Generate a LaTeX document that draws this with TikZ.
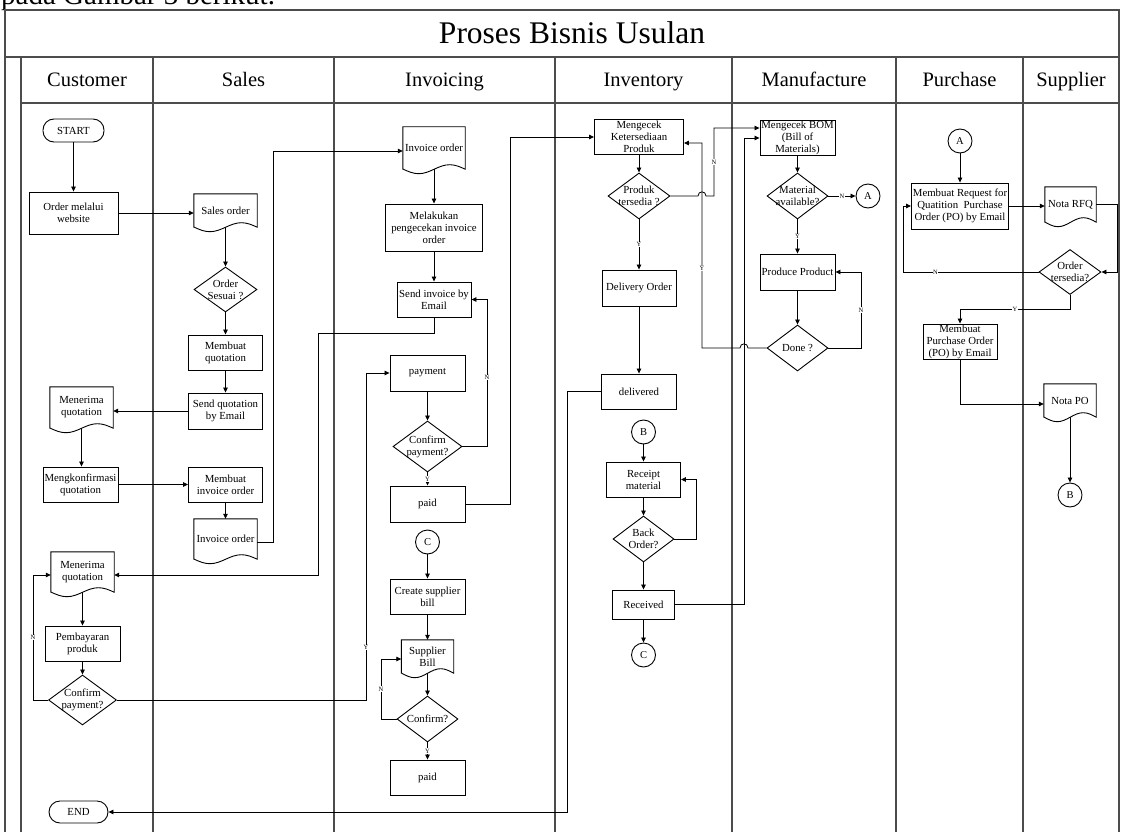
\documentclass[tikz,border=0pt]{standalone}
\usepackage{fontspec}
\setmainfont{Liberation Serif}
\usetikzlibrary{shapes.geometric, arrows.meta}

\tikzset{
  base/.style={font=\fontsize{10.8}{12}\selectfont, align=center, inner xsep=1pt, inner ysep=0pt},
  proc/.style={base, draw, rectangle, line width=0.9pt},
  term/.style={base, draw, rectangle, rounded corners=11pt, line width=0.9pt},
  decision/.style={diamond, draw, inner sep=0pt, line width=0.9pt},
  dtext/.style={base},
  docbody/.style={base, rectangle, inner sep=0pt},
  docline/.style={draw, line width=0.9pt},
  conn/.style={circle, draw, minimum size=24pt, inner sep=0pt, line width=0.9pt, font=\fontsize{10.5}{12}\selectfont},
  flow/.style={draw, line width=0.8pt, -{Triangle[length=5pt,width=4.5pt]}},
  yn/.style={fill=white, inner sep=0.4pt, font=\fontsize{6.5}{7}\selectfont},
  lane/.style={draw=black!70, line width=1.3pt},
  header/.style={anchor=base, inner sep=0pt, font=\fontsize{20.5}{24}\selectfont},
}

% document symbol: a box whose lower edge is a wave
\newcommand\docshape[6]{%
  \node[docbody, minimum width=#4pt, minimum height=#5pt] (#1) at (#2,#3) {#6};
  \draw[docline] (#1.south west) -- (#1.north west) -- (#1.north east) -- (#1.south east)
     sin ++({-#4/4},-4.5) cos ++({-#4/4},4.5) sin ++({-#4/4},4.5) cos ++({-#4/4},-4.5) -- cycle;
}

\begin{document}
\begin{tikzpicture}[x=1pt,y=-1pt]
\useasboundingbox (0,0) rectangle (1121,832);

% running text of the page above the figure
\node[anchor=base west, inner sep=0pt, font=\fontsize{29}{32}\selectfont] (para) at (1,5) {pada Gambar 3 berikut.};

% ---------- pool and lanes ----------
\draw[lane] (5,832) -- (5,10) -- (1119,10) -- (1119,832);
\draw[lane] (5,57) -- (1119,57);
\draw[lane] (21,103) -- (1119,103);
\foreach \x in {21,153,334,555,732,896,1023} \draw[lane] (\x,57) -- (\x,832);

\node[anchor=base, inner sep=0pt, font=\fontsize{31.5}{34}\selectfont] (title) at (572,44) {Proses Bisnis Usulan};
\node[header] (hcust) at (87,87) {Customer};
\node[header] (hsales) at (243.5,87) {Sales};
\node[header] (hinvo) at (444.5,87) {Invoicing};
\node[header] (hinve) at (643.5,87) {Inventory};
\node[header] (hmanu) at (814,87) {Manufacture};
\node[header] (hpurc) at (959.5,87) {Purchase};
\node[header] (hsupp) at (1071,87) {Supplier};

% ---------- Customer ----------
\node[term, minimum width=61pt, minimum height=23pt] (start) at (73.5,130.5) {START};
\node[proc, minimum width=89pt, minimum height=42pt] (order) at (73.5,213) {Order melalui\\website};
\docshape{mqa}{81.5}{407.5}{63}{41}{Menerima\\quotation}
\node[proc, minimum width=75pt, minimum height=35pt] (konf) at (80.5,484.5) {Mengkonfirmasi\\quotation};
\docshape{mqb}{82.5}{572}{63}{40}{Menerima\\quotation}
\node[proc, minimum width=75pt, minimum height=35pt] (bayar) at (82.5,643.5) {Pembayaran\\produk};
\node[decision, minimum width=68pt, minimum height=50pt, label={[dtext]center:{Confirm\\payment?}}] (cpc) at (82.5,700) {};
\node[term, minimum width=59pt, minimum height=22pt] (end) at (78.5,812) {END};

% ---------- Sales ----------
\docshape{so}{225.5}{210.5}{63}{33}{Sales order}
\node[decision, minimum width=63pt, minimum height=45pt, label={[dtext]center:{Order\\Sesuai ?}}] (sesuai) at (225.5,289.5) {};
\node[proc, minimum width=74pt, minimum height=35pt] (mquot) at (225.5,352.5) {Membuat\\quotation};
\node[proc, minimum width=74pt, minimum height=36pt] (sendq) at (225.5,411) {Send quotation\\by Email};
\node[proc, minimum width=74pt, minimum height=35pt] (minv) at (225.5,484.5) {Membuat\\invoice order};
\docshape{ios}{225.5}{539}{63}{40}{Invoice order}

% ---------- Invoicing ----------
\docshape{ioi}{434}{148}{62}{42}{Invoice order}
\node[proc, minimum width=97pt, minimum height=47pt] (cek) at (434,227.5) {Melakukan\\pengecekan invoice\\order};
\node[proc, minimum width=74pt, minimum height=35pt] (sendi) at (434,299.5) {Send invoice by\\Email};
\node[proc, minimum width=75pt, minimum height=36pt] (pay) at (427.5,373) {payment};
\node[decision, minimum width=69pt, minimum height=51pt, label={[dtext]center:{Confirm\\payment?}}] (cpi) at (427.5,446.5) {};
\node[proc, minimum width=75pt, minimum height=36pt] (paida) at (427.5,504) {paid};
\node[conn] (ca) at (427.5,542) {C};
\node[proc, minimum width=75pt, minimum height=35pt] (csb) at (427.5,596.5) {Create supplier\\bill};
\docshape{sb}{427.5}{656.5}{52}{33}{Supplier\\Bill}
\node[decision, minimum width=61pt, minimum height=46pt, label={[dtext]center:{Confirm?}}] (conf) at (427.5,719) {};
\node[proc, minimum width=75pt, minimum height=35pt] (paidb) at (427.5,777.5) {paid};

% ---------- Inventory ----------
\node[proc, minimum width=89pt, minimum height=35pt] (stock) at (639,136.5) {Mengecek\\Ketersediaan\\Produk};
\node[decision, minimum width=62pt, minimum height=46pt, label={[dtext]center:{Produk\\tersedia ?}}] (tersedia) at (639,196) {};
\node[proc, minimum width=74pt, minimum height=36pt] (dord) at (639,288) {Delivery Order};
\node[proc, minimum width=75pt, minimum height=35pt] (deliv) at (639,391.5) {delivered};
\node[conn] (ba) at (643.5,432) {B};
\node[proc, minimum width=74pt, minimum height=35pt] (receipt) at (643.5,479.5) {Receipt\\material};
\node[decision, minimum width=61pt, minimum height=46pt, label={[dtext]center:{Back\\Order?}}] (back) at (643.5,539) {};
\node[proc, minimum width=62pt, minimum height=29pt] (received) at (643.5,604.5) {Received};
\node[conn] (cb) at (643.5,655) {C};

% ---------- Manufacture ----------
\node[proc, minimum width=75pt, minimum height=35pt] (bom) at (797.5,137.5) {Mengecek BOM\\(Bill of\\Materials)};
\node[decision, minimum width=61pt, minimum height=46pt, label={[dtext]center:{Material\\available?}}] (mat) at (797.5,196) {};
\node[conn] (aa) at (868,196) {A};
\node[proc, minimum width=75pt, minimum height=36pt] (produce) at (797.5,272) {Produce Product};
\node[decision, minimum width=61pt, minimum height=46pt, label={[dtext]center:{Done ?}}] (done) at (797.5,348) {};

% ---------- Purchase / Supplier ----------
\node[conn] (ab) at (960,141) {A};
\node[proc, minimum width=97pt, minimum height=46pt] (rfq) at (960,206) {Membuat Request for\\Quatition\ \ Purchase\\Order (PO) by Email};
\docshape{nrfq}{1070.5}{204.5}{51}{35}{Nota RFQ}
\node[decision, minimum width=62pt, minimum height=45pt, label={[dtext]center:{Order\\tersedia?}}] (otersedia) at (1070,272) {};
\node[proc, minimum width=74pt, minimum height=35pt] (po) at (960,341.5) {Membuat\\Purchase Order\\(PO) by Email};
\docshape{npo}{1070}{400.5}{52}{33}{Nota PO}
\node[conn] (bb) at (1070,495) {B};

% ---------- flows: Customer / Sales ----------
\draw[flow] (start) -- (order);
\draw[flow] (order.east) -- (order.east -| so.west);
\draw[flow] (so.south) -- (sesuai.north);
\draw[flow] (sesuai.south) -- (mquot.north);
\draw[flow] (mquot) -- (sendq);
\draw[flow] (sendq.west) -- (sendq.west -| mqa.east);
\draw[flow] (mqa.south) -- (mqa.south |- konf.north);
\draw[flow] (konf.east) -- (konf.east -| minv.west);
\draw[flow] (minv.south) -- (ios.north);
\coordinate (wa) at (273,542);
\coordinate (wb) at (273,151);
\draw[flow] (ios.east |- wa) -- (wa) -- (wb) -- (wb -| ioi.west);
\draw[flow] (mqb.south) -- (bayar.north);
\draw[flow] (bayar) -- (cpc);
\coordinate (wc) at (33,575);
\draw[flow] (cpc.west) -| node[yn, pos=0.75]{N} (wc) -- (wc -| mqb.west);
\coordinate (wd) at (366,373);
\draw[flow] (cpc.east) -| node[yn, pos=0.58]{Y} (wd) -- (pay.west);

% ---------- flows: Invoicing ----------
\draw[flow] (ioi.south) -- (ioi.south |- cek.north);
\draw[flow] (cek) -- (sendi);
\coordinate (we) at (318,333);
\coordinate (wf) at (318,575);
\draw[flow] (sendi.south) |- (we) -- (wf) -- (wf -| mqb.east);
\draw[flow] (pay) -- (cpi);
\draw[flow] (cpi) -- node[yn]{Y} (paida);
\coordinate (wg) at (487,446.5);
\draw[flow] (cpi.east) -- (wg) -- node[yn, pos=0.47]{N} (wg |- sendi.east) -- (sendi.east);
\coordinate (wh) at (510,137);
\draw[flow] (paida.east) -| (wh) -- (wh -| stock.west);
\draw[flow] (ca) -- (csb);
\draw[flow] (csb.south) -- (sb.north);
\draw[flow] (sb.south) -- (conf.north);
\coordinate (wi) at (381,659);
\draw[flow] (conf.west) -| node[yn, pos=0.75]{N} (wi) -- (wi -| sb.west);
\draw[flow] (conf) -- node[yn]{Y} (paidb);

% ---------- flows: Inventory ----------
\draw[flow] (stock) -- (tersedia);
\draw[flow] (tersedia) -- node[yn]{Y} (dord);
\coordinate (ha) at (702,196);
\coordinate (wj) at (714,128);
\draw[flow] (tersedia.east) -- ([xshift=-4pt]ha) .. controls +(0,-5.5) and +(0,-5.5) .. ([xshift=4pt]ha)
  -- (wj |- ha) -- node[yn]{N} (wj) -- (wj -| bom.west);
\draw[flow] (dord) -- (deliv);
\coordinate (wk) at (567,812);
\draw[flow] (deliv.west) -| (wk) -- (end.east);
\draw[flow] (ba) -- (receipt);
\draw[flow] (receipt) -- (back);
\coordinate (wl) at (696,479.5);
\draw[flow] (back.east) -| (wl) -- (receipt.east);
\draw[flow] (back) -- (received);
\draw[flow] (received) -- (cb);
\coordinate (wm) at (744,138);
\draw[flow] (received.east) -| (wm) -- (wm -| bom.west);

% ---------- flows: Manufacture ----------
\draw[flow] (bom) -- (mat);
\draw[flow] (mat) -- node[yn]{Y} (produce);
\draw[flow] (mat.east) -- node[yn]{N} (aa);
\draw[flow] (produce) -- (done);
\coordinate (wn) at (861,272);
\draw[flow] (done.east) -| node[yn, pos=0.75]{N} (wn) -- (produce.east);
\coordinate (hb) at (744,348);
\coordinate (wo) at (702,143);
\draw[flow] (done.west) -- ([xshift=4pt]hb) .. controls +(0,-5.5) and +(0,-5.5) .. ([xshift=-4pt]hb)
  -- (wo |- hb) -- node[yn, pos=0.39]{Y} (wo) -- (wo -| stock.east);

% ---------- flows: Purchase / Supplier ----------
\draw[flow] (ab) -- (rfq);
\draw[flow] (rfq.east) -- (rfq.east -| nrfq.west);
\coordinate (wp) at (1117,272);
\draw[flow] (nrfq.east) -| (wp) -- (otersedia.east);
\coordinate (wq) at (903,206);
\draw[flow] (otersedia.west) -- node[yn, pos=0.76]{N} (wq |- otersedia.west) -- (wq) -- (rfq.west);
\coordinate (wr) at (960,309);
\draw[flow] (otersedia.south) |- node[yn, pos=0.75]{Y} (wr) -- (po.north);
\coordinate (ws) at (960,404);
\draw[flow] (po.south) -- (ws) -- (ws -| npo.west);
\draw[flow] (npo.south) -- (bb);
\end{tikzpicture}
\end{document}
